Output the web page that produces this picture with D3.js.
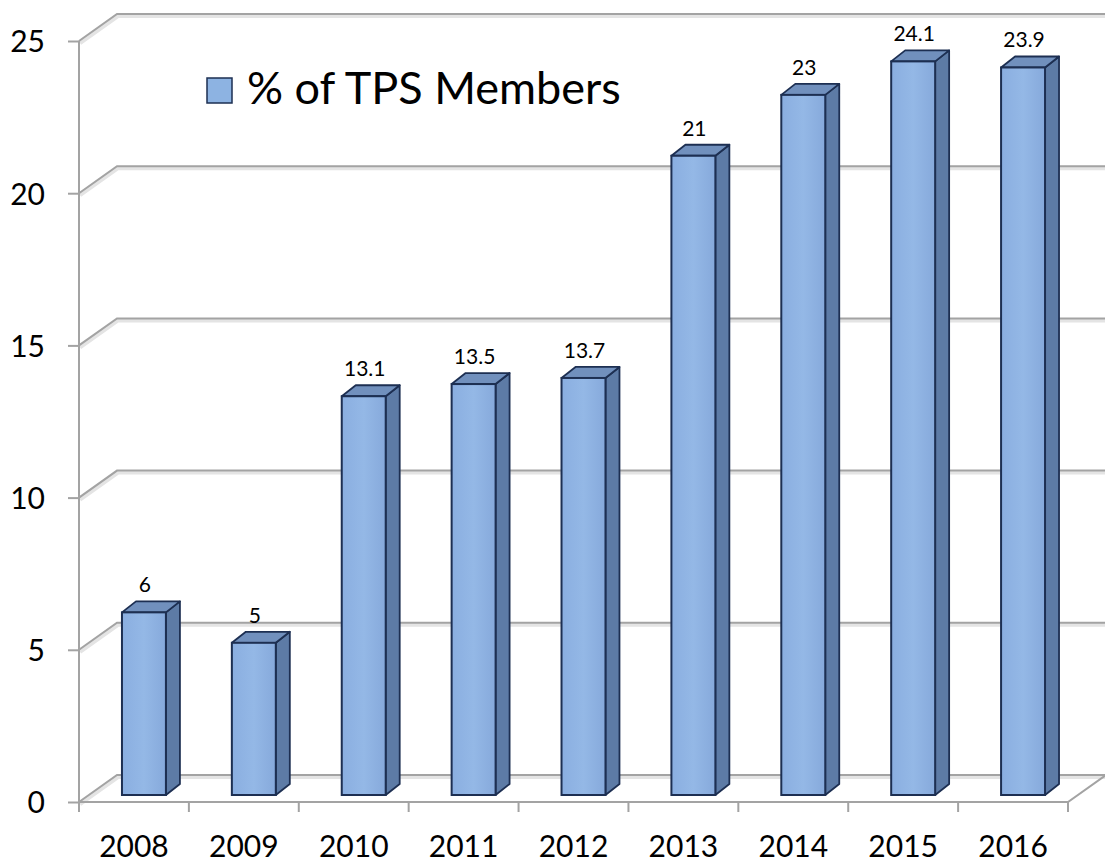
<!DOCTYPE html>
<html>
<head>
<meta charset="utf-8">
<script src="https://cdn.jsdelivr.net/npm/d3@7"></script>
<style>
html,body{margin:0;padding:0;background:#fff;}
svg{display:block;font-family:Lato,"Open Sans",sans-serif;}
</style>
</head>
<body>
<svg id="chart" width="1105" height="862"></svg>
<script>
const categories = ["2008","2009","2010","2011","2012","2013","2014","2015","2016"];
const values = [6, 5, 13.1, 13.5, 13.7, 21, 23, 24.1, 23.9];
const valueLabels = ["6","5","13.1","13.5","13.7","21","23","24.1","23.9"];
const yTicks = [0, 5, 10, 15, 20, 25];
const seriesName = "% of TPS Members";

(function(){
const svg = d3.select("#chart");
const pLeft = 79, pRight = 1068, pBottom = 802, pTop = 41;
const depthX = 38, depthY = -27;          // floor/wall depth
const barShiftX = 10, barShiftY = -7;     // bar front offset in depth
const barDX = 14, barDY = -11;            // bar own depth

const x = d3.scaleBand().domain(categories).range([pLeft, pRight]).paddingInner(0).paddingOuter(0);
const y = d3.scaleLinear().domain([0, 25]).range([pBottom, pTop]);
const barW = x.bandwidth() * 0.4;

const grid = svg.append("g");
yTicks.forEach(t => {
  const yy = y(t);
  const d = `M${pLeft},${yy} L${pLeft+depthX},${yy+depthY} L${pRight+depthX+5},${yy+depthY}`;
  grid.append("path").attr("d", d)
    .attr("fill", "none").attr("stroke", "#e4e4e4").attr("stroke-width", 4).attr("transform","translate(1,2)");
  grid.append("path").attr("d", d)
    .attr("fill", "none").attr("stroke", "#a3a3a3").attr("stroke-width", 2);
});
grid.append("path")
  .attr("d", `M${pLeft},${pBottom} L${pRight},${pBottom} L${pRight+depthX},${pBottom+depthY}`)
  .attr("fill","none").attr("stroke","#a3a3a3").attr("stroke-width",2);

// front y axis
const yAxis = d3.axisLeft(y).tickValues(yTicks).tickSize(11).tickPadding(22);
const ya = svg.append("g").attr("transform", `translate(${pLeft},0)`).call(yAxis);
ya.select(".domain").attr("stroke", "#a3a3a3").attr("stroke-width", 2).attr("d", `M0,${pTop}V${pBottom}`);
ya.selectAll(".tick line").attr("stroke", "#a3a3a3").attr("stroke-width", 2);
ya.selectAll(".tick text").attr("x", -34).attr("font-size", 30).attr("font-family", "Lato").attr("fill", "#000").attr("dy","0.36em");

// front x axis
const xAxis = d3.axisBottom(x).tickSize(10).tickPadding(22).tickSizeOuter(0);
const xa = svg.append("g").attr("transform", `translate(0,${pBottom})`).call(xAxis);
xa.select(".domain").remove();
xa.selectAll(".tick line").remove();
const tickPos = categories.map(c => x(c)).concat([x(categories[categories.length-1]) + x.bandwidth()]);
xa.selectAll("line.sep").data(tickPos).enter().append("line").attr("class","sep")
  .attr("x1", d => d).attr("x2", d => d).attr("y1", 0).attr("y2", 10)
  .attr("stroke", "#a3a3a3").attr("stroke-width", 2);
xa.selectAll(".tick text").attr("y", 55).attr("dy", 0).attr("font-size", 30).attr("font-family", "Lato").attr("fill", "#000");

// bars
const defs = svg.append("defs");
const grad = defs.append("linearGradient").attr("id","front").attr("x1","0").attr("x2","1").attr("y1","0").attr("y2","0");
grad.append("stop").attr("offset","0").attr("stop-color","#8aaee0");
grad.append("stop").attr("offset","0.5").attr("stop-color","#94b8e6");
grad.append("stop").attr("offset","1").attr("stop-color","#86a9db");

const bars = svg.append("g").selectAll("g").data(categories.map((c,i)=>({c, v: values[i], l: valueLabels[i]}))).enter().append("g");
bars.each(function(d){
  const g = d3.select(this);
  const x0 = x(d.c) + (x.bandwidth() - barW)/2 + barShiftX;
  const x1 = x0 + barW;
  const yT = y(d.v) + barShiftY;
  const yB = y(0) + barShiftY;
  g.append("path")
    .attr("d", `M${x1},${yT} L${x1+barDX},${yT+barDY} L${x1+barDX},${yB+barDY} L${x1},${yB} Z`)
    .attr("fill","#5d7ba6").attr("stroke","#1d2f52").attr("stroke-width",1.8).attr("stroke-linejoin","round");
  g.append("path")
    .attr("d", `M${x0},${yT} L${x0+barDX},${yT+barDY} L${x1+barDX},${yT+barDY} L${x1},${yT} Z`)
    .attr("fill","#7190bd").attr("stroke","#1d2f52").attr("stroke-width",1.8).attr("stroke-linejoin","round");
  g.append("rect")
    .attr("x", x0).attr("y", yT).attr("width", barW).attr("height", yB - yT)
    .attr("fill","url(#front)").attr("stroke","#1d2f52").attr("stroke-width",2);
  g.append("text")
    .attr("x", (x0 + x1)/2 + 1).attr("y", yT + barDY - 9)
    .attr("text-anchor","middle").attr("font-size",21).attr("font-family","Lato").attr("fill","#000")
    .text(d.l);
});

// legend
const lg = svg.append("g");
lg.append("rect").attr("x",207).attr("y",78).attr("width",25).attr("height",25)
  .attr("fill","#8db3e2").attr("stroke","#1d2f52").attr("stroke-width",1.5);
lg.append("text").attr("x",247).attr("y",104).attr("font-size",45).attr("font-family","Lato").attr("fill","#000").text(seriesName);
})();
</script>
</body>
</html>
